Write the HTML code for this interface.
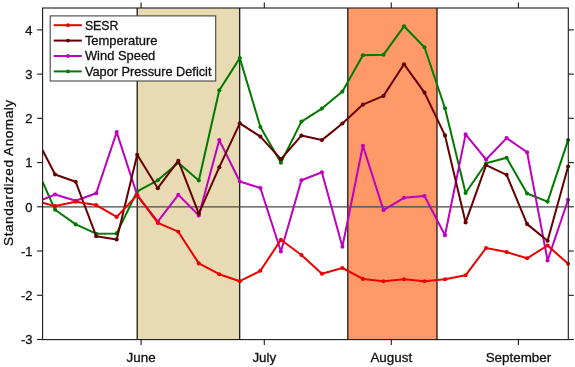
<!DOCTYPE html><html><head><meta charset="utf-8"><title>Standardized Anomaly</title><style>html,body{margin:0;padding:0;background:#fff}svg{display:block}</style></head><body>
<svg width="575" height="367" viewBox="0 0 575 367">
<rect width="575" height="367" fill="#fff"/>
<defs><clipPath id="c"><rect x="42.1" y="8.0" width="528.9" height="331.6"/></clipPath></defs>
<rect x="137.2" y="8.0" width="102.5" height="331.6" fill="#e8dab2"/>
<rect x="347.8" y="8.0" width="89.19999999999999" height="331.6" fill="#ff9a68"/>
<line x1="137.2" x2="137.2" y1="8.0" y2="339.6" stroke="#111" stroke-width="1.25"/>
<line x1="239.7" x2="239.7" y1="8.0" y2="339.6" stroke="#111" stroke-width="1.25"/>
<line x1="347.8" x2="347.8" y1="8.0" y2="339.6" stroke="#111" stroke-width="1.25"/>
<line x1="437.0" x2="437.0" y1="8.0" y2="339.6" stroke="#111" stroke-width="1.25"/>
<line x1="42.6" x2="568.3" y1="206.8" y2="206.8" stroke="#484848" stroke-width="1.2"/>
<g clip-path="url(#c)">
<polyline fill="none" stroke="#007a00" stroke-width="2" stroke-linejoin="round" points="42.6,181.8 55.1,209.8 75.7,224.4 96.2,233.7 116.7,233.4 137.2,191.3 157.8,180.3 178.3,162.7 198.8,180.5 219.3,90.2 239.8,58.1 260.4,127.0 280.9,162.7 301.4,121.6 321.9,108.6 342.4,91.6 362.9,55.2 383.5,54.7 404.0,26.3 424.5,47.2 445.0,108.2 465.6,193.0 486.1,163.2 506.6,157.7 527.1,193.5 547.6,201.6 568.1,140.1"/><circle cx="55.1" cy="209.8" r="2.05" fill="#007a00"/><circle cx="75.7" cy="224.4" r="2.05" fill="#007a00"/><circle cx="96.2" cy="233.7" r="2.05" fill="#007a00"/><circle cx="116.7" cy="233.4" r="2.05" fill="#007a00"/><circle cx="137.2" cy="191.3" r="2.05" fill="#007a00"/><circle cx="157.8" cy="180.3" r="2.05" fill="#007a00"/><circle cx="178.3" cy="162.7" r="2.05" fill="#007a00"/><circle cx="198.8" cy="180.5" r="2.05" fill="#007a00"/><circle cx="219.3" cy="90.2" r="2.05" fill="#007a00"/><circle cx="239.8" cy="58.1" r="2.05" fill="#007a00"/><circle cx="260.4" cy="127.0" r="2.05" fill="#007a00"/><circle cx="280.9" cy="162.7" r="2.05" fill="#007a00"/><circle cx="301.4" cy="121.6" r="2.05" fill="#007a00"/><circle cx="321.9" cy="108.6" r="2.05" fill="#007a00"/><circle cx="342.4" cy="91.6" r="2.05" fill="#007a00"/><circle cx="362.9" cy="55.2" r="2.05" fill="#007a00"/><circle cx="383.5" cy="54.7" r="2.05" fill="#007a00"/><circle cx="404.0" cy="26.3" r="2.05" fill="#007a00"/><circle cx="424.5" cy="47.2" r="2.05" fill="#007a00"/><circle cx="445.0" cy="108.2" r="2.05" fill="#007a00"/><circle cx="465.6" cy="193.0" r="2.05" fill="#007a00"/><circle cx="486.1" cy="163.2" r="2.05" fill="#007a00"/><circle cx="506.6" cy="157.7" r="2.05" fill="#007a00"/><circle cx="527.1" cy="193.5" r="2.05" fill="#007a00"/><circle cx="547.6" cy="201.6" r="2.05" fill="#007a00"/><circle cx="568.1" cy="140.1" r="2.05" fill="#007a00"/>
<polyline fill="none" stroke="#bf00bf" stroke-width="2" stroke-linejoin="round" points="42.6,199.6 55.1,194.5 75.7,200.8 96.2,193.3 116.7,132.1 137.2,195.3 157.8,221.6 178.3,194.8 198.8,215.4 219.3,140.1 239.8,181.5 260.4,188.0 280.9,251.5 301.4,180.3 321.9,172.3 342.4,246.7 362.9,145.7 383.5,210.1 404.0,197.8 424.5,196.0 445.0,235.2 465.6,134.4 486.1,159.5 506.6,138.1 527.1,152.2 547.6,260.5 568.1,199.8"/><circle cx="55.1" cy="194.5" r="2.05" fill="#bf00bf"/><circle cx="75.7" cy="200.8" r="2.05" fill="#bf00bf"/><circle cx="96.2" cy="193.3" r="2.05" fill="#bf00bf"/><circle cx="116.7" cy="132.1" r="2.05" fill="#bf00bf"/><circle cx="137.2" cy="195.3" r="2.05" fill="#bf00bf"/><circle cx="157.8" cy="221.6" r="2.05" fill="#bf00bf"/><circle cx="178.3" cy="194.8" r="2.05" fill="#bf00bf"/><circle cx="198.8" cy="215.4" r="2.05" fill="#bf00bf"/><circle cx="219.3" cy="140.1" r="2.05" fill="#bf00bf"/><circle cx="239.8" cy="181.5" r="2.05" fill="#bf00bf"/><circle cx="260.4" cy="188.0" r="2.05" fill="#bf00bf"/><circle cx="280.9" cy="251.5" r="2.05" fill="#bf00bf"/><circle cx="301.4" cy="180.3" r="2.05" fill="#bf00bf"/><circle cx="321.9" cy="172.3" r="2.05" fill="#bf00bf"/><circle cx="342.4" cy="246.7" r="2.05" fill="#bf00bf"/><circle cx="362.9" cy="145.7" r="2.05" fill="#bf00bf"/><circle cx="383.5" cy="210.1" r="2.05" fill="#bf00bf"/><circle cx="404.0" cy="197.8" r="2.05" fill="#bf00bf"/><circle cx="424.5" cy="196.0" r="2.05" fill="#bf00bf"/><circle cx="445.0" cy="235.2" r="2.05" fill="#bf00bf"/><circle cx="465.6" cy="134.4" r="2.05" fill="#bf00bf"/><circle cx="486.1" cy="159.5" r="2.05" fill="#bf00bf"/><circle cx="506.6" cy="138.1" r="2.05" fill="#bf00bf"/><circle cx="527.1" cy="152.2" r="2.05" fill="#bf00bf"/><circle cx="547.6" cy="260.5" r="2.05" fill="#bf00bf"/><circle cx="568.1" cy="199.8" r="2.05" fill="#bf00bf"/>
<polyline fill="none" stroke="#660000" stroke-width="2" stroke-linejoin="round" points="42.6,150.2 55.1,174.5 75.7,181.8 96.2,236.2 116.7,239.4 137.2,154.7 157.8,188.2 178.3,160.7 198.8,213.6 219.3,167.2 239.8,123.3 260.4,136.6 280.9,159.2 301.4,135.6 321.9,140.1 342.4,123.5 362.9,104.6 383.5,95.9 404.0,64.2 424.5,92.6 445.0,135.4 465.6,222.4 486.1,165.2 506.6,174.8 527.1,224.1 547.6,240.7 568.1,166.5"/><circle cx="55.1" cy="174.5" r="2.05" fill="#660000"/><circle cx="75.7" cy="181.8" r="2.05" fill="#660000"/><circle cx="96.2" cy="236.2" r="2.05" fill="#660000"/><circle cx="116.7" cy="239.4" r="2.05" fill="#660000"/><circle cx="137.2" cy="154.7" r="2.05" fill="#660000"/><circle cx="157.8" cy="188.2" r="2.05" fill="#660000"/><circle cx="178.3" cy="160.7" r="2.05" fill="#660000"/><circle cx="198.8" cy="213.6" r="2.05" fill="#660000"/><circle cx="219.3" cy="167.2" r="2.05" fill="#660000"/><circle cx="239.8" cy="123.3" r="2.05" fill="#660000"/><circle cx="260.4" cy="136.6" r="2.05" fill="#660000"/><circle cx="280.9" cy="159.2" r="2.05" fill="#660000"/><circle cx="301.4" cy="135.6" r="2.05" fill="#660000"/><circle cx="321.9" cy="140.1" r="2.05" fill="#660000"/><circle cx="342.4" cy="123.5" r="2.05" fill="#660000"/><circle cx="362.9" cy="104.6" r="2.05" fill="#660000"/><circle cx="383.5" cy="95.9" r="2.05" fill="#660000"/><circle cx="404.0" cy="64.2" r="2.05" fill="#660000"/><circle cx="424.5" cy="92.6" r="2.05" fill="#660000"/><circle cx="445.0" cy="135.4" r="2.05" fill="#660000"/><circle cx="465.6" cy="222.4" r="2.05" fill="#660000"/><circle cx="486.1" cy="165.2" r="2.05" fill="#660000"/><circle cx="506.6" cy="174.8" r="2.05" fill="#660000"/><circle cx="527.1" cy="224.1" r="2.05" fill="#660000"/><circle cx="547.6" cy="240.7" r="2.05" fill="#660000"/><circle cx="568.1" cy="166.5" r="2.05" fill="#660000"/>
<polyline fill="none" stroke="#ec0000" stroke-width="2" stroke-linejoin="round" points="42.6,202.8 55.1,206.1 75.7,201.8 96.2,205.1 116.7,216.9 137.2,195.1 157.8,222.9 178.3,231.7 198.8,263.4 219.3,274.2 239.8,281.2 260.4,270.8 280.9,239.8 301.4,255.0 321.9,273.8 342.4,268.0 362.9,278.9 383.5,281.2 404.0,279.2 424.5,281.2 445.0,279.2 465.6,275.3 486.1,248.0 506.6,252.1 527.1,258.3 547.6,245.5 568.1,263.8"/><circle cx="55.1" cy="206.1" r="2.05" fill="#ec0000"/><circle cx="75.7" cy="201.8" r="2.05" fill="#ec0000"/><circle cx="96.2" cy="205.1" r="2.05" fill="#ec0000"/><circle cx="116.7" cy="216.9" r="2.05" fill="#ec0000"/><circle cx="137.2" cy="195.1" r="2.05" fill="#ec0000"/><circle cx="157.8" cy="222.9" r="2.05" fill="#ec0000"/><circle cx="178.3" cy="231.7" r="2.05" fill="#ec0000"/><circle cx="198.8" cy="263.4" r="2.05" fill="#ec0000"/><circle cx="219.3" cy="274.2" r="2.05" fill="#ec0000"/><circle cx="239.8" cy="281.2" r="2.05" fill="#ec0000"/><circle cx="260.4" cy="270.8" r="2.05" fill="#ec0000"/><circle cx="280.9" cy="239.8" r="2.05" fill="#ec0000"/><circle cx="301.4" cy="255.0" r="2.05" fill="#ec0000"/><circle cx="321.9" cy="273.8" r="2.05" fill="#ec0000"/><circle cx="342.4" cy="268.0" r="2.05" fill="#ec0000"/><circle cx="362.9" cy="278.9" r="2.05" fill="#ec0000"/><circle cx="383.5" cy="281.2" r="2.05" fill="#ec0000"/><circle cx="404.0" cy="279.2" r="2.05" fill="#ec0000"/><circle cx="424.5" cy="281.2" r="2.05" fill="#ec0000"/><circle cx="445.0" cy="279.2" r="2.05" fill="#ec0000"/><circle cx="465.6" cy="275.3" r="2.05" fill="#ec0000"/><circle cx="486.1" cy="248.0" r="2.05" fill="#ec0000"/><circle cx="506.6" cy="252.1" r="2.05" fill="#ec0000"/><circle cx="527.1" cy="258.3" r="2.05" fill="#ec0000"/><circle cx="547.6" cy="245.5" r="2.05" fill="#ec0000"/><circle cx="568.1" cy="263.8" r="2.05" fill="#ec0000"/>
</g>
<rect x="42.6" y="8.0" width="525.6999999999999" height="331.6" fill="none" stroke="#1a1a1a" stroke-width="1.1"/>
<line x1="37.1" x2="42.6" y1="339.5" y2="339.5" stroke="#1a1a1a" stroke-width="1.1"/>
<line x1="568.3" x2="573.8" y1="339.5" y2="339.5" stroke="#1a1a1a" stroke-width="1.1"/>
<text x="32.6" y="344.2" text-anchor="end" font-size="13" font-family="Liberation Sans, Arial, Helvetica, sans-serif" fill="#111" stroke="#111" stroke-width="0.3">-3</text>
<line x1="37.1" x2="42.6" y1="295.3" y2="295.3" stroke="#1a1a1a" stroke-width="1.1"/>
<line x1="568.3" x2="573.8" y1="295.3" y2="295.3" stroke="#1a1a1a" stroke-width="1.1"/>
<text x="32.6" y="300.0" text-anchor="end" font-size="13" font-family="Liberation Sans, Arial, Helvetica, sans-serif" fill="#111" stroke="#111" stroke-width="0.3">-2</text>
<line x1="37.1" x2="42.6" y1="251.0" y2="251.0" stroke="#1a1a1a" stroke-width="1.1"/>
<line x1="568.3" x2="573.8" y1="251.0" y2="251.0" stroke="#1a1a1a" stroke-width="1.1"/>
<text x="32.6" y="255.7" text-anchor="end" font-size="13" font-family="Liberation Sans, Arial, Helvetica, sans-serif" fill="#111" stroke="#111" stroke-width="0.3">-1</text>
<line x1="37.1" x2="42.6" y1="206.8" y2="206.8" stroke="#1a1a1a" stroke-width="1.1"/>
<line x1="568.3" x2="573.8" y1="206.8" y2="206.8" stroke="#1a1a1a" stroke-width="1.1"/>
<text x="32.6" y="211.5" text-anchor="end" font-size="13" font-family="Liberation Sans, Arial, Helvetica, sans-serif" fill="#111" stroke="#111" stroke-width="0.3">0</text>
<line x1="37.1" x2="42.6" y1="162.6" y2="162.6" stroke="#1a1a1a" stroke-width="1.1"/>
<line x1="568.3" x2="573.8" y1="162.6" y2="162.6" stroke="#1a1a1a" stroke-width="1.1"/>
<text x="32.6" y="167.3" text-anchor="end" font-size="13" font-family="Liberation Sans, Arial, Helvetica, sans-serif" fill="#111" stroke="#111" stroke-width="0.3">1</text>
<line x1="37.1" x2="42.6" y1="118.3" y2="118.3" stroke="#1a1a1a" stroke-width="1.1"/>
<line x1="568.3" x2="573.8" y1="118.3" y2="118.3" stroke="#1a1a1a" stroke-width="1.1"/>
<text x="32.6" y="123.0" text-anchor="end" font-size="13" font-family="Liberation Sans, Arial, Helvetica, sans-serif" fill="#111" stroke="#111" stroke-width="0.3">2</text>
<line x1="37.1" x2="42.6" y1="74.1" y2="74.1" stroke="#1a1a1a" stroke-width="1.1"/>
<line x1="568.3" x2="573.8" y1="74.1" y2="74.1" stroke="#1a1a1a" stroke-width="1.1"/>
<text x="32.6" y="78.8" text-anchor="end" font-size="13" font-family="Liberation Sans, Arial, Helvetica, sans-serif" fill="#111" stroke="#111" stroke-width="0.3">3</text>
<line x1="37.1" x2="42.6" y1="29.9" y2="29.9" stroke="#1a1a1a" stroke-width="1.1"/>
<line x1="568.3" x2="573.8" y1="29.9" y2="29.9" stroke="#1a1a1a" stroke-width="1.1"/>
<text x="32.6" y="34.6" text-anchor="end" font-size="13" font-family="Liberation Sans, Arial, Helvetica, sans-serif" fill="#111" stroke="#111" stroke-width="0.3">4</text>
<line x1="141.1" x2="141.1" y1="339.6" y2="345.1" stroke="#1a1a1a" stroke-width="1.1"/>
<line x1="141.1" x2="141.1" y1="2.5" y2="8.0" stroke="#1a1a1a" stroke-width="1.1"/>
<text x="141.1" y="361.8" text-anchor="middle" font-size="13.4" font-family="Liberation Sans, Arial, Helvetica, sans-serif" fill="#111" stroke="#111" stroke-width="0.3">June</text>
<line x1="264.3" x2="264.3" y1="339.6" y2="345.1" stroke="#1a1a1a" stroke-width="1.1"/>
<line x1="264.3" x2="264.3" y1="2.5" y2="8.0" stroke="#1a1a1a" stroke-width="1.1"/>
<text x="264.3" y="361.8" text-anchor="middle" font-size="13.4" font-family="Liberation Sans, Arial, Helvetica, sans-serif" fill="#111" stroke="#111" stroke-width="0.3">July</text>
<line x1="391.3" x2="391.3" y1="339.6" y2="345.1" stroke="#1a1a1a" stroke-width="1.1"/>
<line x1="391.3" x2="391.3" y1="2.5" y2="8.0" stroke="#1a1a1a" stroke-width="1.1"/>
<text x="391.3" y="361.8" text-anchor="middle" font-size="13.4" font-family="Liberation Sans, Arial, Helvetica, sans-serif" fill="#111" stroke="#111" stroke-width="0.3">August</text>
<line x1="518.4" x2="518.4" y1="339.6" y2="345.1" stroke="#1a1a1a" stroke-width="1.1"/>
<line x1="518.4" x2="518.4" y1="2.5" y2="8.0" stroke="#1a1a1a" stroke-width="1.1"/>
<text x="518.4" y="361.8" text-anchor="middle" font-size="13.4" font-family="Liberation Sans, Arial, Helvetica, sans-serif" fill="#111" stroke="#111" stroke-width="0.3">September</text>
<text transform="translate(12.9,245.9) rotate(-90)" textLength="146" lengthAdjust="spacing" font-size="13.6" font-family="Liberation Sans, Arial, Helvetica, sans-serif" fill="#111" stroke="#111" stroke-width="0.3">Standardized Anomaly</text>
<rect x="50.2" y="15.9" width="165.5" height="65.1" fill="#fff" stroke="#444" stroke-width="1.1"/>
<line x1="53.7" x2="81.8" y1="25.2" y2="25.2" stroke="#ec0000" stroke-width="2"/>
<circle cx="68.0" cy="25.2" r="1.95" fill="#ec0000"/>
<text x="84.9" y="29.7" font-size="12.8" textLength="33.6" lengthAdjust="spacingAndGlyphs" font-family="Liberation Sans, Arial, Helvetica, sans-serif" fill="#111" stroke="#111" stroke-width="0.3">SESR</text>
<line x1="53.7" x2="81.8" y1="40.6" y2="40.6" stroke="#660000" stroke-width="2"/>
<circle cx="68.0" cy="40.6" r="1.95" fill="#660000"/>
<text x="84.9" y="45.0" font-size="12.8" textLength="72.6" lengthAdjust="spacingAndGlyphs" font-family="Liberation Sans, Arial, Helvetica, sans-serif" fill="#111" stroke="#111" stroke-width="0.3">Temperature</text>
<line x1="53.7" x2="81.8" y1="56.0" y2="56.0" stroke="#bf00bf" stroke-width="2"/>
<circle cx="68.0" cy="56.0" r="1.95" fill="#bf00bf"/>
<text x="84.9" y="60.3" font-size="12.8" textLength="70.4" lengthAdjust="spacingAndGlyphs" font-family="Liberation Sans, Arial, Helvetica, sans-serif" fill="#111" stroke="#111" stroke-width="0.3">Wind Speed</text>
<line x1="53.7" x2="81.8" y1="71.4" y2="71.4" stroke="#007a00" stroke-width="2"/>
<circle cx="68.0" cy="71.4" r="1.95" fill="#007a00"/>
<text x="84.9" y="75.6" font-size="12.8" textLength="126.6" lengthAdjust="spacingAndGlyphs" font-family="Liberation Sans, Arial, Helvetica, sans-serif" fill="#111" stroke="#111" stroke-width="0.3">Vapor Pressure Deficit</text>
</svg></body></html>
